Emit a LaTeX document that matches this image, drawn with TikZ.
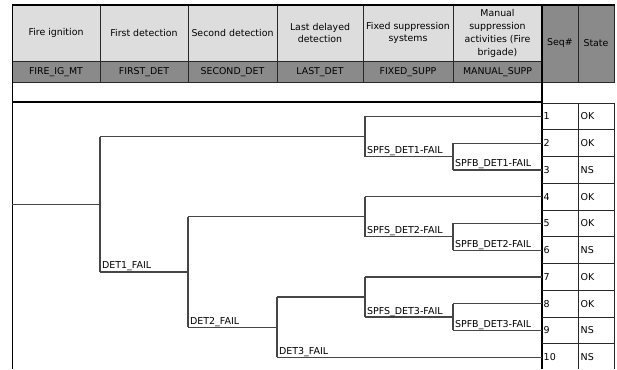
\documentclass[tikz,border=0pt]{standalone}
\usepackage{fontspec}
\setmainfont{DejaVu Sans}
\definecolor{hdrlight}{RGB}{221,221,221}
\definecolor{hdrdark}{RGB}{138,138,138}
\definecolor{treeline}{RGB}{70,70,70}
\definecolor{gridline}{RGB}{40,40,40}
\tikzset{
  treeedge/.style={draw=treeline, line width=1.2pt},
  hdrtext/.style={font=\fontsize{9.4}{12.8}\selectfont, align=center, inner sep=0pt},
  brlabel/.style={font=\fontsize{9.5}{11}\selectfont, anchor=base west, inner sep=0pt, xshift=1.8pt, yshift=3pt},
  celltext/.style={font=\fontsize{9.5}{11}\selectfont, anchor=west, inner sep=0pt},
  thinrule/.style={draw=gridline, line width=1pt},
  thickrule/.style={draw=black, line width=2pt},
}
\begin{document}
\begin{tikzpicture}[x=1pt,y=-1pt]
\useasboundingbox (0,0) rectangle (617,369);
% header fills
\fill[hdrlight] (12,5) rectangle (542,61);
\fill[hdrdark] (12,61) rectangle (542,82.5);
\fill[hdrdark] (542,5) rectangle (614,82.5);
% header grid
\foreach \x in {100,188,277,363,453} \draw[thinrule] (\x,5) -- (\x,82.5);
\draw[thinrule] (12,61) -- (542,61);
\draw[thinrule] (12,82.5) -- (614,82.5);
\draw[thinrule] (578,5) -- (578,82.5);
\draw[thinrule] (614,5) -- (614,82.5);
\draw[draw=black, line width=1.5pt] (12,5) -- (614.5,5);
\draw[draw=black, line width=1pt] (12,5) -- (12,369);
\draw[thickrule] (12,102) -- (542,102);
\draw[thickrule] (542,5) -- (542,369);
% seq/state grid
\draw[thinrule] (578,103) -- (578,369);
\draw[thinrule] (614,103) -- (614,369);
\foreach \k in {0,...,9} \draw[thinrule] (542,{103+26.75*\k}) -- (614,{103+26.75*\k});
% header texts
\node[hdrtext] (h1) at (56,33) {Fire ignition};
\node[hdrtext] (h2) at (144,33) {First detection};
\node[hdrtext] (h3) at (232.5,33) {Second detection};
\node[hdrtext] (h4) at (320,33) {Last delayed\\detection};
\node[hdrtext] (h5) at (408,33) {Fixed suppression\\systems};
\node[hdrtext] (h6) at (497.5,33.5) {Manual\\suppression\\activities (Fire\\brigade)};
\node[hdrtext] (h7) at (560,43) {Seq\#};
\node[hdrtext] (h8) at (596,43) {State};
\node[hdrtext] (c1) at (56,72) {FIRE\_IG\_MT};
\node[hdrtext] (c2) at (144,72) {FIRST\_DET};
\node[hdrtext] (c3) at (232.5,72) {SECOND\_DET};
\node[hdrtext] (c4) at (320,72) {LAST\_DET};
\node[hdrtext] (c5) at (408,72) {FIXED\_SUPP};
\node[hdrtext] (c6) at (497.5,72) {MANUAL\_SUPP};
% seq and state cells
\foreach \k/\s in {1/OK,2/OK,3/NS,4/OK,5/OK,6/NS,7/OK,8/OK,9/NS,10/NS} {
  \node[celltext] (seq\k) at (543.5,{116.4+26.75*(\k-1)}) {\k};
  \node[celltext] (st\k) at (580.5,{116.4+26.75*(\k-1)}) {\s};
}
% tree coordinates
\coordinate (r0) at (12,204.2);
\coordinate (j1) at (100,204.2);
\coordinate (j1t) at (100,136.5);
\coordinate (j1b) at (100,271.9);
\coordinate (sA) at (365,136.5);
\coordinate (sAt) at (365,116.4);
\coordinate (sAb) at (365,156.5);
\coordinate (fA) at (453,156.5);
\coordinate (fAt) at (453,143.15);
\coordinate (fAb) at (453,169.9);
\coordinate (j2) at (188,271.9);
\coordinate (j2t) at (188,216.7);
\coordinate (j2b) at (188,327.1);
\coordinate (sB) at (365,216.7);
\coordinate (sBt) at (365,196.65);
\coordinate (sBb) at (365,236.8);
\coordinate (fB) at (453,236.8);
\coordinate (fBt) at (453,223.4);
\coordinate (fBb) at (453,250.15);
\coordinate (j3) at (277,327.1);
\coordinate (j3t) at (277,297.0);
\coordinate (j3b) at (277,357.15);
\coordinate (sC) at (365,297.0);
\coordinate (sCt) at (365,276.9);
\coordinate (sCb) at (365,317.0);
\coordinate (fC) at (453,317.0);
\coordinate (fCt) at (453,303.65);
\coordinate (fCb) at (453,330.4);
\foreach \k in {1,...,10} \coordinate (e\k) at (542,{116.4+26.75*(\k-1)});
% tree edges
\draw[treeedge] (r0) -- (j1);
\draw[treeedge] (j1t) -- (j1b);
\draw[treeedge] (j1t) -- (sA);
\draw[treeedge] (sAt) -- (sAb);
\draw[treeedge] (sAt) -- (e1);
\draw[treeedge] (sAb) -- (fA);
\draw[treeedge] (fAt) -- (fAb);
\draw[treeedge] (fAt) -- (e2);
\draw[treeedge] (fAb) -- (e3);
\draw[treeedge] (j1b) -- (j2);
\draw[treeedge] (j2t) -- (j2b);
\draw[treeedge] (j2t) -- (sB);
\draw[treeedge] (sBt) -- (sBb);
\draw[treeedge] (sBt) -- (e4);
\draw[treeedge] (sBb) -- (fB);
\draw[treeedge] (fBt) -- (fBb);
\draw[treeedge] (fBt) -- (e5);
\draw[treeedge] (fBb) -- (e6);
\draw[treeedge] (j2b) -- (j3);
\draw[treeedge] (j3t) -- (j3b);
\draw[treeedge] (j3t) -- (sC);
\draw[treeedge] (sCt) -- (sCb);
\draw[treeedge] (sCt) -- (e7);
\draw[treeedge] (sCb) -- (fC);
\draw[treeedge] (fCt) -- (fCb);
\draw[treeedge] (fCt) -- (e8);
\draw[treeedge] (fCb) -- (e9);
\draw[treeedge] (j3b) -- (e10);
% branch labels
\node[brlabel] (l1) at (j1b) {DET1\_FAIL};
\node[brlabel] (l2) at (j2b) {DET2\_FAIL};
\node[brlabel] (l3) at (j3b) {DET3\_FAIL};
\node[brlabel] (l4) at (sAb) {SPFS\_DET1-FAIL};
\node[brlabel] (l5) at (fAb) {SPFB\_DET1-FAIL};
\node[brlabel] (l6) at (sBb) {SPFS\_DET2-FAIL};
\node[brlabel] (l7) at (fBb) {SPFB\_DET2-FAIL};
\node[brlabel] (l8) at (sCb) {SPFS\_DET3-FAIL};
\node[brlabel] (l9) at (fCb) {SPFB\_DET3-FAIL};
\end{tikzpicture}
\end{document}
